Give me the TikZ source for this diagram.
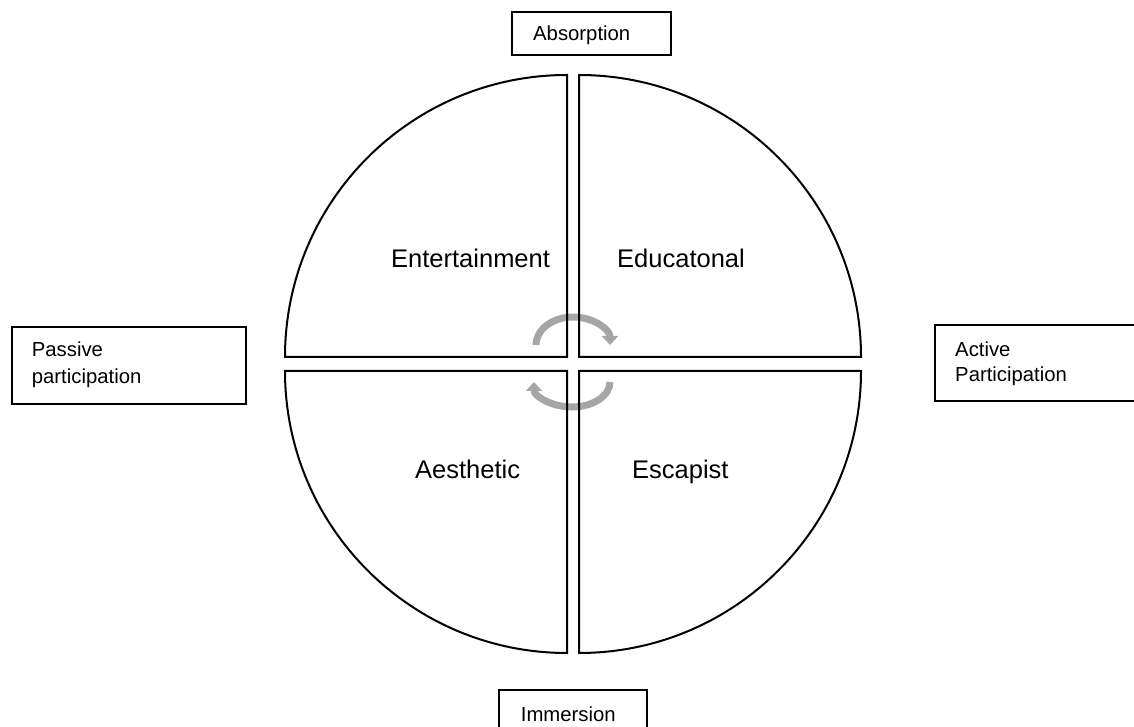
\documentclass[tikz,border=0pt]{standalone}
\usepackage{fontspec}
\setmainfont{Liberation Sans}
\usetikzlibrary{arrows.meta}
\definecolor{cyclegray}{RGB}{166,166,166}
\begin{document}
\begin{tikzpicture}[x=1pt,y=1pt,
  quadrant/.style={draw=black,line width=2pt,line join=miter},
  axisbox/.style={draw=black,line width=1.2pt,inner sep=0pt},
  boxtext/.style={anchor=base west,inner sep=0pt,font=\fontsize{20.3}{24}\selectfont},
  segtext/.style={anchor=base west,inner sep=0pt,font=\fontsize{25.5}{30}\selectfont},
  cycle arrow/.style={draw=cyclegray,line width=7pt,-{Triangle[length=9pt,width=16pt]}}]
\useasboundingbox (0,0) rectangle (1134,726);
\clip (0,0) rectangle (1134,726);

% rotating arrows in the middle
\coordinate (cu) at (573,381);
\coordinate (cd) at (572,344);
\draw[cycle arrow] ([xshift=-37pt]cu) arc[start angle=180,end angle=0,x radius=37,y radius=28];
\draw[cycle arrow] ([xshift=38pt]cd) arc[start angle=0,end angle=-180,x radius=38,y radius=25];

% four quadrants of the circle
\coordinate (tl) at (567,369);
\coordinate (tr) at (579,369);
\coordinate (bl) at (567,355);
\coordinate (br) at (579,355);
\draw[quadrant] (tl) -- ++(-282,0) arc[start angle=180,end angle=90,radius=282] -- cycle;
\draw[quadrant] (tr) -- ++(0,282) arc[start angle=90,end angle=0,radius=282] -- cycle;
\draw[quadrant] (bl) -- ++(-282,0) arc[start angle=180,end angle=270,radius=282] -- cycle;
\draw[quadrant] (br) -- ++(282,0) arc[start angle=0,end angle=-90,radius=282] -- cycle;

% quadrant labels
\node[segtext] (entertainment) at (391,458.7) {Entertainment};
\node[segtext] (educational) at (617,458.7) {Educatonal};
\node[segtext] (aesthetic) at (415,248) {Aesthetic};
\node[segtext] (escapist) at (632,248) {Escapist};

% axis boxes
\node[axisbox,minimum width=159pt,minimum height=43pt] (absorptionbox) at (591.5,692.5) {};
\node[boxtext] (absorption) at (533,685.3) {Absorption};

\node[axisbox,minimum width=234pt,minimum height=77pt] (passivebox) at (129,360.5) {};
\node[boxtext] (passive1) at (31.7,369.3) {Passive};
\node[boxtext] (passive2) at (31.7,342.7) {participation};

\node[axisbox,minimum width=215pt,minimum height=76pt] (activebox) at (1042.5,363) {};
\node[boxtext] (active1) at (955,369.3) {Active};
\node[boxtext] (active2) at (955,344.3) {Participation};

\node[axisbox,minimum width=148pt,minimum height=50pt] (immersionbox) at (573,11) {};
\node[boxtext] (immersion) at (520.7,5) {Immersion};
\end{tikzpicture}
\end{document}
